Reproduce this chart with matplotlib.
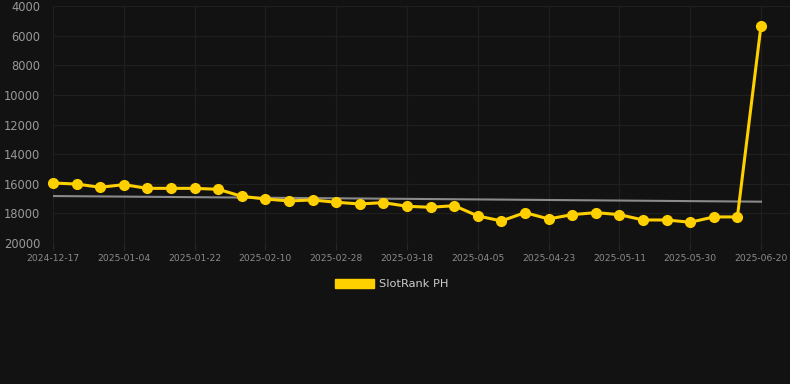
import matplotlib
matplotlib.use("Agg")
import matplotlib.pyplot as plt
from matplotlib.patches import Patch

tick_labels = ["2024-12-17", "2025-01-04", "2025-01-22", "2025-02-10", "2025-02-28",
               "2025-03-18", "2025-04-05", "2025-04-23", "2025-05-11", "2025-05-30",
               "2025-06-20"]
ranks = [15950, 16020, 16240, 16060, 16310, 16310, 16310, 16375, 16850, 17030,
         17160, 17095, 17250, 17365, 17275, 17520, 17590, 17480, 18175, 18510,
         17950, 18375, 18085, 17950, 18085, 18445, 18445, 18600, 18240, 18240,
         5330]
trend = [16830, 17210]
series_name = "SlotRank PH"

bg = "#121212"
fig = plt.figure(figsize=(7.9, 3.84), dpi=100, facecolor=bg)
left_px, last_px, right_px = 53, 761, 790
ax = fig.add_axes([left_px/790, 1-243/384, (right_px-left_px)/790, (243-6)/384], facecolor=bg)

x = list(range(len(ranks)))
n = len(ranks) - 1
ax.plot([x[0], x[-1]], trend, color="#8a8a8a", lw=1.5, zorder=2)
ax.plot(x, ranks, color="#FFD000", lw=2.2, marker="o", ms=7,
        markerfacecolor="#FFD000", markeredgecolor="#FFD000", zorder=3, clip_on=False)

ax.set_ylim(20000, 4000)
ax.set_xlim(0, n * (right_px-left_px) / (last_px-left_px))
ax.set_yticks(range(4000, 20001, 2000))
ax.set_xticks(range(0, len(ranks), 3))
ax.set_xticklabels(tick_labels)

ax.grid(True, color="#1f1f1f", lw=0.9)
ax.set_axisbelow(True)
for s in ax.spines.values():
    s.set_visible(False)
ax.tick_params(axis="y", colors="#1f1f1f", labelcolor="#999999", labelsize=8.3,
               length=0, pad=9)
ax.tick_params(axis="x", colors="#262626", labelcolor="#8c8c8c", labelsize=6.6,
               length=5, pad=3)

leg = fig.legend(handles=[Patch(facecolor="#FFD000", edgecolor="#FFD000")],
                 labels=[series_name], loc="center", bbox_to_anchor=(392/790, 1-284/384),
                 frameon=False, handlelength=3.4, handleheight=0.95, fontsize=8.2,
                 labelcolor="#cccccc", handletextpad=0.5)

fig.savefig("out.png", dpi=100, facecolor=bg)
